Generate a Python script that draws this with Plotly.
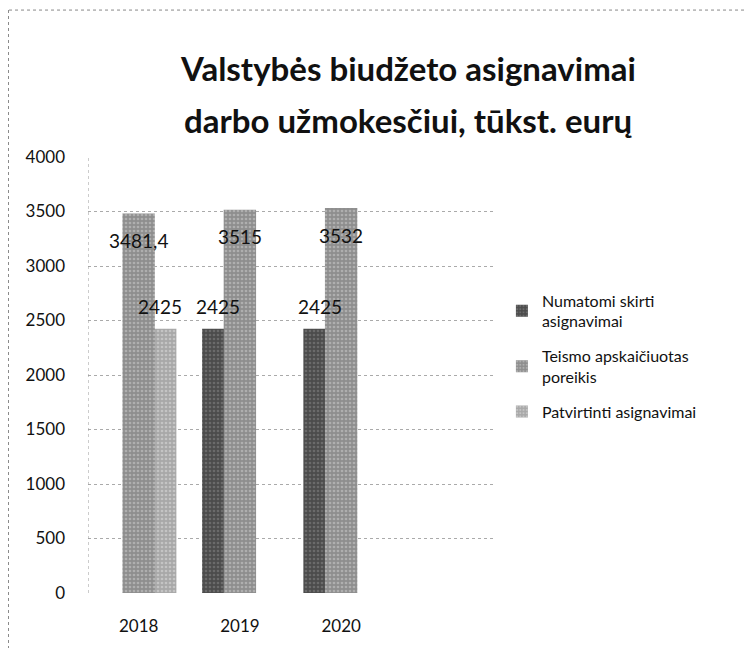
import plotly.graph_objects as go

years = ["2018", "2019", "2020"]
numatomi = [None, 2425, 2425]
teismo = [3481.4, 3515, 3532]
patvirtinti = [2425, None, None]
teismo_labels = ["3481,4", "3515", "3532"]
names = ["Numatomi skirti<br>asignavimai", "Teismo apskaičiuotas<br>poreikis", "Patvirtinti asignavimai"]
y_ticks = [0, 500, 1000, 1500, 2000, 2500, 3000, 3500, 4000]

FONT = "Lato"
W = 0.32
D = 0.213
xpos = list(range(len(years)))

fig = go.Figure()

def pat(bg, fg):
    return dict(shape=".", bgcolor=bg, fgcolor=fg, size=4, solidity=0.35)

fig.add_trace(go.Bar(x=xpos, y=numatomi, name=names[0], width=W, offset=-D - W / 2,
                     marker=dict(color="#4c4c4c", pattern=pat("#4c4c4c", "#8a8a8a"), line=dict(width=0)),
                     legendrank=1, legendgroup="a"))
fig.add_trace(go.Bar(x=xpos, y=patvirtinti, name=names[2], width=W, offset=D - W / 2,
                     marker=dict(color="#a8a8a8", pattern=pat("#a8a8a8", "#e0e0e0"), line=dict(width=0)),
                     legendrank=3, legendgroup="c"))
fig.add_trace(go.Bar(x=xpos, y=teismo, name=names[1], width=W, offset=-W / 2,
                     marker=dict(color="#8e8e8e", pattern=pat("#8e8e8e", "#d0d0d0"), line=dict(width=0)),
                     legendrank=2, legendgroup="b"))

LBL = dict(family=FONT, size=19, color="#111")
ann = []
for i, v in enumerate(teismo):
    ann.append(dict(x=xpos[i], y=v, text=teismo_labels[i], showarrow=False, yshift=-27, font=LBL))
for i, v in enumerate(numatomi):
    if v is not None:
        ann.append(dict(x=xpos[i] - D, y=v, text=str(v), showarrow=False, yshift=22, font=LBL))
for i, v in enumerate(patvirtinti):
    if v is not None:
        ann.append(dict(x=xpos[i] + D, y=v, text=str(v), showarrow=False, yshift=22, font=LBL))

TFONT = dict(family=FONT, size=33, color="#111")
ann.append(dict(xref="paper", yref="paper", x=0.79, y=1.203, xanchor="center", yanchor="middle",
                text="<b>Valstybės biudžeto asignavimai</b>", showarrow=False, font=TFONT))
ann.append(dict(xref="paper", yref="paper", x=0.79, y=1.084, xanchor="center", yanchor="middle",
                text="<b>darbo užmokesčiui, tūkst. eurų</b>", showarrow=False, font=TFONT))

shapes = [
    dict(type="line", xref="x", yref="paper", x0=-0.5, x1=-0.5, y0=0, y1=1,
         line=dict(color="#999", width=1, dash="dot")),
    dict(type="line", xref="paper", yref="paper", x0=-0.195, x1=1.65, y0=1.337, y1=1.337,
         line=dict(color="#888", width=1, dash="dot")),
    dict(type="line", xref="paper", yref="paper", x0=-0.197, x1=-0.197, y0=1.337, y1=-0.13,
         line=dict(color="#888", width=1.5, dash="dot")),
]

fig.update_layout(
    width=744, height=640,
    margin=dict(l=80, r=259, t=149, b=55),
    barmode="overlay",
    paper_bgcolor="white", plot_bgcolor="white",
    font=dict(family=FONT, size=17, color="#111"),
    showlegend=True,
    legend=dict(x=1.022, y=0.71, xanchor="left", yanchor="top", font=dict(family=FONT, size=16, color="#111"),
                tracegroupgap=11, itemwidth=30, bgcolor="rgba(0,0,0,0)"),
    annotations=ann,
    shapes=shapes,
    xaxis=dict(range=[-0.5, 3.5], tickvals=xpos, ticktext=years, showgrid=False, zeroline=False,
               showline=False, ticks="", tickfont=dict(size=17), ticklabelstandoff=21),
    yaxis=dict(range=[0, 4000], tickvals=y_ticks, showgrid=True, gridcolor="#aaa", griddash="dot",
               gridwidth=1, zeroline=False, showline=False, ticks="", tickfont=dict(size=17),
               ticklabelstandoff=22),
)

fig.write_html("out.html")
